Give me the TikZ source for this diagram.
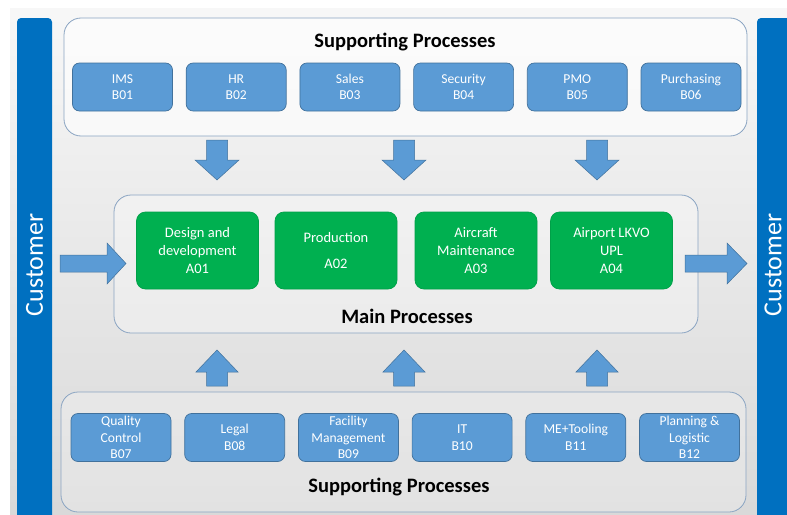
\documentclass[tikz,border=0pt]{standalone}
\usepackage{fontspec}
\setmainfont{Carlito}
\usetikzlibrary{positioning}

\definecolor{custblue}{HTML}{0070C0}
\definecolor{procfill}{HTML}{5B9BD5}
\definecolor{procedge}{HTML}{41719C}
\definecolor{mainfill}{HTML}{00B050}
\definecolor{mainedge}{HTML}{00A048}
\definecolor{groupedge}{HTML}{8AA4C2}

\tikzset{
  supbox/.style={draw=procedge, fill=procfill, line width=0.7pt, rounded corners=7pt,
    minimum width=100pt, minimum height=48pt, inner sep=1pt, text=white, align=center,
    font=\fontsize{13.6}{16.5}\selectfont},
  mainbox/.style={draw=mainedge, fill=mainfill, line width=0.7pt, rounded corners=9pt,
    minimum width=122pt, minimum height=77pt, inner sep=1pt, text=white, align=center,
    font=\fontsize{14.5}{18}\selectfont},
  group/.style={draw=groupedge, line width=0.8pt, rounded corners=17pt},
  fatarrow/.style={fill=procfill, draw=procedge, line width=0.5pt},
  grouptitle/.style={font=\fontsize{20.5}{24}\selectfont\bfseries},
  custtext/.style={rotate=90, text=white, inner sep=0pt, font=\fontsize{26}{30}\selectfont},
}

\begin{document}
\begin{tikzpicture}[x=1pt, y=-1pt]
  \useasboundingbox (0,0) rectangle (787,514);
  \shade[top color=white!97!black, bottom color=black!15] (10,8) rectangle (787,514);

  % customer bars
  \fill[custblue, rounded corners=4pt] (17,18) rectangle (52,530);
  \fill[custblue, rounded corners=4pt] (757,18) rectangle (800,530);
  \node[custtext] (custin) at (34.5,265) {Customer};
  \node[custtext] (custout) at (773,265) {Customer};

  % supporting processes, top
  \filldraw[group, fill=white, fill opacity=0.6] (64,18) rectangle (747,136);
  \node[grouptitle] (suptop) at (405,42) {Supporting Processes};
  \node[supbox] (b01) at (122.5,87) {IMS\\B01};
  \node[supbox, right=13pt of b01] (b02) {HR\\B02};
  \node[supbox, right=13pt of b02] (b03) {Sales\\B03};
  \node[supbox, right=13pt of b03] (b04) {Security\\B04};
  \node[supbox, right=13pt of b04] (b05) {PMO\\B05};
  \node[supbox, right=13pt of b05] (b06) {Purchasing\\B06};

  % main processes
  \filldraw[group, fill=white, fill opacity=0.3] (114,195) rectangle (698,333);
  \node[grouptitle] (mainlabel) at (407,316) {Main Processes};
  \node[mainbox] (a01) at (197.5,250.5) {Design and\\development\\A01};
  \node[mainbox] (a02) at (336,250.5) {Production\\[8pt]A02};
  \node[mainbox] (a03) at (476,250.5) {Aircraft\\Maintenance\\A03};
  \node[mainbox] (a04) at (611.5,250.5) {Airport LKVO\\UPL\\A04};

  % supporting processes, bottom
  \filldraw[group, fill=white, fill opacity=0.25] (61,392) rectangle (746,512);
  \node[grouptitle] (supbottom) at (399,487) {Supporting Processes};
  \node[supbox] (b07) at (121,437.5) {Quality\\Control\\B07};
  \node[supbox, right=13pt of b07] (b08) {Legal\\B08};
  \node[supbox, right=13pt of b08] (b09) {Facility\\Management\\B09};
  \node[supbox, right=13pt of b09] (b10) {IT\\B10};
  \node[supbox, right=13pt of b10] (b11) {ME+Tooling\\B11};
  \node[supbox, right=13pt of b11] (b12) {Planning \&\\Logistic\\B12};

  % block arrows
  \foreach \x in {217,404,597} {
    \filldraw[fatarrow] (\x-10.5,140) -- (\x+10.5,140) -- (\x+10.5,160) -- (\x+22,160)
      -- (\x,180) -- (\x-22,160) -- (\x-10.5,160) -- cycle;
    \filldraw[fatarrow] (\x-10.5,386) -- (\x+10.5,386) -- (\x+10.5,372) -- (\x+21,372)
      -- (\x,350) -- (\x-21,372) -- (\x-10.5,372) -- cycle;
  }
  \filldraw[fatarrow] (60,255) -- (107,255) -- (107,243) -- (126,263.5) -- (107,284)
    -- (107,272) -- (60,272) -- cycle;
  \filldraw[fatarrow] (685,255) -- (727,255) -- (727,243) -- (747,263.5) -- (727,284)
    -- (727,272) -- (685,272) -- cycle;
\end{tikzpicture}
\end{document}
